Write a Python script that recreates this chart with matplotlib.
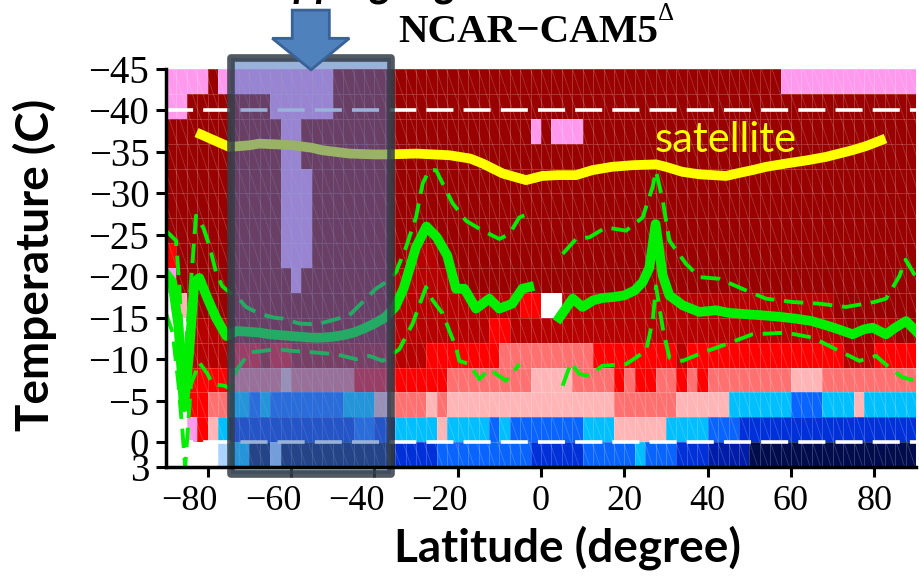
import numpy as np
import matplotlib.pyplot as plt
from matplotlib.colors import ListedColormap
from matplotlib.collections import LineCollection
from matplotlib.patches import Rectangle, Polygon
from matplotlib.transforms import ScaledTranslation

# bins of the cloud-phase map
lat_edges = np.arange(-90, 90.1, 2.5)
temp_edges = np.arange(-45, 3.1, 3)

# colour classes used in the map
class_codes = "DRBSPWVLCMKNX"
class_colors = ["#990000", "#b60000", "#ff0000", "#ff7070", "#ffb5b5", "#ffffff",
                "#ff99ee", "#abd3ff", "#00bfff", "#0a64ff", "#0030d8", "#001ca8", "#000c4c"]

# each row of the map as (start latitude, class) runs, from -45 C down to +3 C
map_runs = [
    [(-90, 'V'), (-80, 'D'), (-77.5, 'V'), (-50, 'D'), (57.5, 'V')],
    [(-90, 'V'), (-85, 'D'), (-65, 'V'), (-50, 'D')],
    [(-90, 'D'), (-62.5, 'V'), (-57.5, 'D'), (-2.5, 'V'), (0, 'D'), (2.5, 'V'), (10, 'D')],
    [(-90, 'D'), (-62.5, 'V'), (-57.5, 'D')],
    [(-90, 'D'), (-62.5, 'V'), (-55, 'D')],
    [(-90, 'D'), (-62.5, 'V'), (-55, 'D')],
    [(-90, 'D'), (-62.5, 'V'), (-55, 'D')],
    [(-90, 'B'), (-87.5, 'D'), (-62.5, 'V'), (-55, 'D'), (-32.5, 'R'), (-25, 'D'), (27.5, 'R'), (30, 'D')],
    [(-90, 'V'), (-87.5, 'D'), (-60, 'V'), (-57.5, 'D'), (-35, 'R'), (-20, 'D'), (27.5, 'R'), (30, 'D')],
    [(-90, 'W'), (-87.5, 'P'), (-85, 'D'), (-35, 'R'), (-5, 'B'), (0, 'W'), (5, 'R'), (70, 'D')],
    [(-90, 'W'), (-85, 'R'), (-75, 'D'), (-35, 'R'), (-12.5, 'B'), (-7.5, 'R'), (72.5, 'D'), (80, 'R'),
     (85, 'D')],
    [(-90, 'W'), (-85, 'R'), (-75, 'B'), (-67.5, 'R'), (-65, 'B'), (-60, 'R'), (-27.5, 'B'), (-10, 'S'),
     (12.5, 'B'), (32.5, 'R'), (35, 'B'), (72.5, 'R'), (80, 'B')],
    [(-90, 'W'), (-85, 'B'), (-75, 'S'), (-62.5, 'P'), (-60, 'S'), (-45, 'B'), (-22.5, 'S'), (-2.5, 'P'),
     (7.5, 'S'), (17.5, 'B'), (20, 'S'), (22.5, 'B'), (27.5, 'S'), (32.5, 'B'), (35, 'S'), (37.5, 'B'),
     (40, 'S'), (60, 'P'), (67.5, 'S')],
    [(-90, 'W'), (-85, 'B'), (-80, 'S'), (-75, 'C'), (-70, 'M'), (-67.5, 'C'), (-65, 'M'), (-47.5, 'C'),
     (-40, 'P'), (-35, 'S'), (-27.5, 'P'), (-25, 'S'), (-22.5, 'P'), (17.5, 'S'), (32.5, 'P'), (45, 'C'),
     (60, 'M'), (67.5, 'C'), (75, 'P'), (77.5, 'C')],
    [(-90, 'W'), (-85, 'V'), (-82.5, 'B'), (-80, 'P'), (-77.5, 'C'), (-75, 'K'), (-45, 'M'), (-40, 'K'),
     (-35, 'C'), (-25, 'P'), (-22.5, 'C'), (-12.5, 'M'), (-10, 'C'), (-7.5, 'M'), (10, 'C'), (17.5, 'P'),
     (30, 'C'), (40, 'M'), (47.5, 'K')],
    [(-90, 'W'), (-77.5, 'L'), (-75, 'C'), (-70, 'X'), (-65, 'L'), (-62.5, 'X'), (-35, 'K'), (-25, 'M'),
     (-2.5, 'K'), (10, 'M'), (22.5, 'C'), (25, 'M'), (32.5, 'K'), (40, 'N'), (50, 'X')],
]

# model median (thick) and spread (dashed) of the phase transition temperature
mid_lat = [-90, -88.5, -87, -85.7, -84.5, -83.2, -82, -80, -78, -75.5, -73, -70, -67.5, -65, -62.5,
           -60, -57.5, -55, -52.5, -50, -47.5, -45, -42.5, -40, -37.5, -35, -33, -30, -27.5, -25,
           -22.5, -20.4, -18.4, -15.6, -12.4, -10, -6.9, -4.5, -2.8, 0, 2.5, 4.4, 7.6, 10, 12.5,
           15, 17.5, 20, 22.5, 24.4, 26, 27.5, 29.2, 30.8, 34, 38, 42, 45, 50, 53, 57.5, 61, 65,
           69, 72, 74.8, 77.5, 79.6, 82.8, 85, 87.6, 90]
mid_temp = [-20.3, -19.3, -14, -4.2, -10.5, -19.3, -19.8, -17.3, -15, -12.8, -13.4, -13.3, -13.2, -13,
            -12.9, -12.8, -12.7, -12.6, -12.6, -12.7, -12.9, -13.2, -13.7, -14.3, -15, -16.3, -18.5,
            -23.5, -26, -24.7, -22.5, -18.5, -18.5, -16.1, -17.3, -16.1, -16.7, -18.5, -18.7, np.nan,
            np.nan, -15, -17.3, -16.3, -17.1, -17.4, -17.5, -17.7, -18.3, -19.3, -21, -26.3, -20.1,
            -17.7, -16.5, -15.7, -15.9, -15.6, -15.4, -15.3, -15.1, -14.9, -14.6, -14, -13.5, -13,
            -13.6, -13.8, -13, -13.8, -14.6, -13.4]

cold_lat = [-90, -87.6, -86.8, -85.8, -84.5, -82.8, -81, -79.5, -78, -76.5, -74.8, -72.5, -70.8,
            -67.6, -64, -62, -58, -54, -50.8, -46, -43.6, -39.6, -37.2, -34.8, -32.4, -30, -28.4,
            -26.8, -25.2, -23.6, -21.2, -18, -14, -10, -7.6, -5.2, -2.8, 0, 2.5, 5.2, 8.4, 11.6,
            15.6, 20.4, 24.4, 26.8, 27.6, 29.2, 30.8, 34.8, 38, 42.8, 49.2, 54, 60.3, 66.8, 73.2,
            80, 82.8, 86, 87.5, 90]
cold_temp = [-25.5, -24.3, -19, -8, -16, -27.3, -25.8, -23.5, -20.5, -18.8, -18.1, -17.3, -16.3,
             -15.5, -15, -14.9, -14.3, -14.2, -14.6, -15.3, -16.5, -18.5, -19.3, -20.5, -23.5,
             -27.1, -31.2, -32.8, -32.8, -31.2, -28.8, -26.7, -25.5, -24.5, -25.1, -27.1, -27.6,
             np.nan, np.nan, -22.7, -24.5, -24.7, -25.9, -25.5, -27.1, -30.8, -32.7, -29.2, -24.3,
             -21.5, -19.9, -19.7, -18.3, -17.3, -16.9, -16.7, -16.3, -16.9, -17.3, -20, -22, -19.9]

warm_lat = [-90, -88.4, -87, -86, -85.4, -84, -82, -80, -78.8, -76, -74.4, -73.2, -70, -66.8,
            -63.6, -59.6, -54, -49.2, -44.4, -41.2, -38, -34, -30.8, -27.6, -26, -23.6, -20.4,
            -19.6, -17.2, -14.8, -12.4, -8.4, -5.2, 0, 2.5, 5.2, 7.2, 9.2, 11.6, 14.7, 20.4, 25.2,
            26.8, 27.6, 29.2, 30.8, 34, 38.8, 44.4, 50.7, 58.8, 65.2, 71.6, 76.4, 80.4, 83.6, 86.8, 90]
warm_temp = [-15.5, -13.2, -7, -1, 3, -7, -9.6, -8.2, -7, -6.8, -6.4, -8.6, -10.8, -11, -11.2, -11,
             -10.8, -10.6, -10, -10.4, -9.8, -11.2, -14.3, -18.7, -17.1, -15.5, -11.4, -9.8, -9.4,
             -7.6, -8.8, -7.4, -9.4, np.nan, np.nan, -6.8, -9.6, -8.2, -8, -9.2, -9.4, -11, -14.6,
             -18.8, -13.8, -10.2, -9.8, -10.8, -11.8, -13, -13.2, -12.6, -11, -9.8, -10.4, -9,
             -7.8, -7.4]

# satellite-derived transition temperature
sat_lat = [-81.6, -78, -74.8, -70, -67.6, -63, -59.6, -55, -52.5, -46, -40, -36.4, -30, -22, -17,
           -14, -9.2, -3.6, 0.3, 4, 8.4, 12.3, 17, 22, 27.6, 30, 33.9, 38, 44.4, 47, 50.7, 54, 58.8,
           64, 68.4, 74.7, 78, 81.6]
sat_temp = [-37.1, -36.3, -35.6, -35.8, -36, -35.9, -35.8, -35.5, -35.2, -34.8, -34.7, -34.7, -34.8,
            -34.6, -34.2, -33.6, -32.4, -31.6, -32.1, -32.2, -32.2, -32.8, -33.2, -33.4, -33.5,
            -33.2, -32.6, -32.3, -32.1, -32.4, -32.8, -33.2, -33.6, -34, -34.4, -35.2, -35.7, -36.4]

x_ticks = [-80, -60, -40, -20, 0, 20, 40, 60, 80]
y_ticks = [-45, -40, -35, -30, -25, -20, -15, -10, -5, 0, 3]

# highlighted Southern Ocean band (lat range, temp range)
box_lat = (-74.3, -35.9)
box_temp = (-46.3, 3.9)

# build the class grid
codes = np.zeros((len(temp_edges) - 1, len(lat_edges) - 1), dtype=int)
for i, runs in enumerate(map_runs):
    for j, (start, code) in enumerate(runs):
        stop = runs[j + 1][0] if j + 1 < len(runs) else 90
        a = int(round((start + 90) / 2.5))
        b = int(round((stop + 90) / 2.5))
        codes[i, a:b] = class_codes.index(code)

fig = plt.figure(figsize=(9.2, 5.76), dpi=100)
ax = fig.add_axes([166 / 920, 1 - 467 / 576, 750 / 920, 398 / 576])

cmap = ListedColormap(class_colors)
ax.pcolormesh(lat_edges, temp_edges, codes, cmap=cmap, vmin=-0.5, vmax=len(class_colors) - 0.5,
              edgecolors=(1, 1, 1, 0.2), linewidth=0.7, zorder=1)

# thin diagonal hatching over the map
hx = np.arange(-0.2, 1.0, 0.014)
hatch = LineCollection([[(x, 1), (x + 0.177, 0)] for x in hx], colors=[(1, 1, 1, 0.2)],
                       linewidths=0.6, transform=ax.transAxes, zorder=1.5)
ax.add_collection(hatch)

for t in (-40, 0):
    ax.axhline(t, color='white', lw=2.6, dashes=(7.5, 2.8), zorder=2)

green = '#00ee00'
ax.plot(mid_lat, mid_temp, color=green, lw=7, solid_joinstyle='round', zorder=3)
ax.plot(cold_lat, cold_temp, color=green, lw=2.8, dashes=(5, 2.5), zorder=3)
ax.plot(warm_lat, warm_temp, color=green, lw=2.8, dashes=(5, 2.5), zorder=3)
ax.plot(sat_lat, sat_temp, color='#ffff00', lw=7, solid_joinstyle='round', zorder=3)
ax.text(44.3, -36.4, 'satellite', color='#ffff00', fontsize=30, family=['Lato', 'DejaVu Sans'],
        ha='center', va='center', zorder=3)

box = Rectangle((box_lat[0], box_temp[0]), box_lat[1] - box_lat[0], box_temp[1] - box_temp[0],
                facecolor=(0.27, 0.45, 0.73, 0.55), edgecolor=(0.2, 0.24, 0.28, 0.85), lw=5.5,
                joinstyle='round', clip_on=False, zorder=4)
ax.add_patch(box)

arrow = Polygon([(-59.7, -52.1), (-50.8, -52.1), (-50.8, -48.7), (-46, -48.7), (-55.2, -44.9),
                 (-64.5, -48.7), (-59.7, -48.7)], closed=True, facecolor='#4f81bd',
                edgecolor='#3a6294', lw=2, clip_on=False, zorder=5)
ax.add_patch(arrow)

ax.set_xlim(-90, 90)
ax.set_ylim(3, -45)
ax.set_xticks(x_ticks)
ax.set_yticks(y_ticks)
for s in ('top', 'right'):
    ax.spines[s].set_visible(False)
for s in ('left', 'bottom'):
    ax.spines[s].set_linewidth(2.5)
    ax.spines[s].set_zorder(6)
ax.tick_params(direction='out', length=7, width=2.2, pad=6)
ax.tick_params(axis='x', labelsize=26)
ax.tick_params(axis='y', labelsize=28, pad=5)
for lab in ax.get_xticklabels() + ax.get_yticklabels():
    lab.set_family('Liberation Serif')
# negative latitude labels sit left of their ticks, as in the source figure
shift = ScaledTranslation(-0.18, 0, fig.dpi_scale_trans)
for tick, val in zip(ax.xaxis.get_major_ticks(), x_ticks):
    if val < 0:
        tick.label1.set_transform(tick.label1.get_transform() + shift)

sans = ['Lato', 'DejaVu Sans']
fig.text(35 / 920, 1 - 265 / 576, 'Temperature (C)', rotation=90, ha='center', va='center',
         fontsize=33, fontweight='bold', family=sans)
fig.text(567 / 920, 1 - 548 / 576, 'Latitude (degree)', ha='center', va='center',
         fontsize=33, fontweight='bold', family=sans)
title = fig.text(528 / 920, 1 - 33 / 576, 'NCAR\u2212CAM5', ha='center', va='center',
                 fontsize=29.5, fontweight='bold', family='Liberation Serif')
ax.annotate('\u0394', xy=(1.0, 1.0), xycoords=title, ha='left', va='center', fontsize=18,
            family='Liberation Serif', annotation_clip=False)
fig.text(0.19, 1 + 4 / 576, 'Overlapping region', ha='left', va='baseline', fontsize=30,
         fontweight='bold', style='italic', family=sans)

fig.savefig('out.png', dpi=100)
